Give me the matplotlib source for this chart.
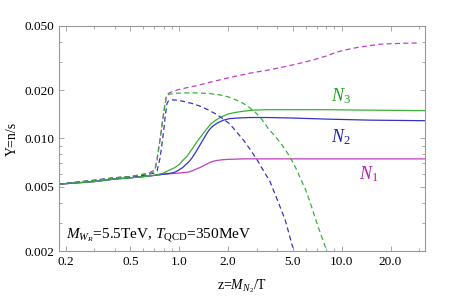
import matplotlib
matplotlib.use("Agg")
import matplotlib.pyplot as plt
from matplotlib.ticker import FixedLocator, FixedFormatter, NullFormatter

plt.rcParams['font.family'] = ['Liberation Serif', 'DejaVu Serif']
plt.rcParams['mathtext.fontset'] = 'custom'
plt.rcParams['mathtext.rm'] = 'Liberation Serif'
plt.rcParams['mathtext.it'] = 'Liberation Serif:italic'
plt.rcParams['lines.scale_dashes'] = False

# solid curves (N1, N2, N3)
z_n1 = [0.18, 0.3, 0.4, 0.5, 0.6, 0.7, 0.8, 0.9, 1.0, 1.08, 1.15, 1.2, 1.27, 1.34, 1.42,
        1.5, 1.6, 1.7, 1.85, 2.0, 2.5, 5.0, 10.0, 20.0, 33.0]
y_n1 = [0.0052, 0.0054, 0.0056, 0.0057, 0.0058, 0.0059, 0.0060, 0.00605, 0.0061, 0.00615,
        0.0062, 0.0063, 0.00645, 0.0066, 0.0068, 0.0070, 0.0072, 0.0073, 0.00738, 0.00742,
        0.00747, 0.00747, 0.00747, 0.00747, 0.00747]

z_n2 = [0.18, 0.3, 0.4, 0.5, 0.6, 0.7, 0.8, 0.9, 0.95, 1.0, 1.05, 1.1, 1.15, 1.2, 1.27,
        1.34, 1.4, 1.45, 1.5, 1.55, 1.62, 1.7, 1.78, 1.87, 2.05, 2.3, 2.7, 3.5, 5.0, 8.0,
        15.0, 33.0]
y_n2 = [0.0052, 0.0054, 0.0056, 0.0057, 0.0058, 0.0059, 0.0060, 0.0061, 0.0062, 0.0064,
        0.0066, 0.0069, 0.0072, 0.0076, 0.0083, 0.0091, 0.0098, 0.0104, 0.0110, 0.0115,
        0.0120, 0.0124, 0.0127, 0.0130, 0.0133, 0.0134, 0.0135, 0.0135, 0.0134, 0.0132,
        0.0130, 0.0129]

z_n3 = [0.18, 0.3, 0.4, 0.5, 0.6, 0.7, 0.8, 0.88, 0.94, 1.0, 1.05, 1.11, 1.16, 1.22, 1.28,
        1.34, 1.4, 1.47, 1.55, 1.64, 1.74, 1.87, 2.0, 2.2, 2.4, 2.84, 3.5, 5.0, 8.0, 15.0,
        33.0]
y_n3 = [0.0052, 0.0054, 0.0056, 0.0057, 0.0058, 0.0059, 0.0061, 0.0064, 0.0066, 0.0069,
        0.0073, 0.0077, 0.0082, 0.0088, 0.0095, 0.0101, 0.0107, 0.0114, 0.0122, 0.0128,
        0.0133, 0.0138, 0.0142, 0.0145, 0.0147, 0.0150, 0.0151, 0.0151, 0.0151, 0.0150,
        0.0149]

# dashed curves
zd_n1 = [0.18, 0.3, 0.4, 0.5, 0.6, 0.65, 0.69, 0.71, 0.73, 0.75, 0.77, 0.79, 0.81, 0.83,
         0.85, 0.9, 1.0, 1.25, 1.5, 2.15, 2.8, 3.6, 4.5, 5.5, 6.7, 8.0, 9.3, 10.7, 12.5,
         15.0, 17.2, 20.0, 25.0, 29.5]
yd_n1 = [0.0052, 0.0055, 0.0057, 0.0058, 0.0060, 0.0061, 0.0063, 0.0066, 0.0075, 0.0090,
         0.0108, 0.0130, 0.0155, 0.0180, 0.0190, 0.0195, 0.0202, 0.0212, 0.0222, 0.0242,
         0.0256, 0.0267, 0.0280, 0.0293, 0.0308, 0.0325, 0.0344, 0.0356, 0.0368, 0.0378,
         0.0385, 0.0388, 0.0391, 0.0392]

zd_n2 = [0.18, 0.3, 0.4, 0.5, 0.6, 0.65, 0.70, 0.73, 0.76, 0.78, 0.80, 0.82, 0.84, 0.86,
         0.9, 0.97, 1.06, 1.2, 1.34, 1.5, 1.7, 1.87, 2.05, 2.25, 2.5, 2.72, 3.06, 3.3,
         3.62, 4.0, 4.5, 5.0]
yd_n2 = [0.0052, 0.0055, 0.0057, 0.0058, 0.0059, 0.0060, 0.0061, 0.0063, 0.0075, 0.0090,
         0.0110, 0.0138, 0.0165, 0.0172, 0.0174, 0.0173, 0.0170, 0.0165, 0.0159, 0.0151,
         0.0141, 0.0132, 0.0123, 0.0110, 0.0097, 0.0086, 0.0072, 0.0063, 0.0054, 0.0042,
         0.0031, 0.0021]

zd_n3 = [0.18, 0.3, 0.4, 0.5, 0.6, 0.65, 0.69, 0.71, 0.73, 0.75, 0.77, 0.79, 0.81, 0.83,
         0.86, 0.95, 1.1, 1.3, 1.55, 1.75, 1.9, 2.05, 2.2, 2.4, 2.56, 2.72, 2.93, 3.2, 3.54,
         4.0, 4.4, 4.8, 5.2, 5.6, 6.0, 6.4, 7.1, 8.1]
yd_n3 = [0.0052, 0.0055, 0.0057, 0.0058, 0.0060, 0.0060, 0.0062, 0.0064, 0.0073, 0.0088,
         0.0106, 0.0128, 0.0153, 0.0178, 0.0188, 0.0191, 0.0192, 0.0192, 0.0190, 0.0187,
         0.0184, 0.0180, 0.0175, 0.0168, 0.0162, 0.0155, 0.0146, 0.0133, 0.0115, 0.0100,
         0.0088, 0.0077, 0.0066, 0.0056, 0.0048, 0.0040, 0.0029, 0.0020]

x_ticks = [0.2, 0.5, 1.0, 2.0, 5.0, 10.0, 20.0]
x_labels = ["0.2", "0.5", "1.0", "2.0", "5.0", "10.0", "20.0"]
y_ticks = [0.002, 0.005, 0.010, 0.020, 0.050]
y_labels = ["0.002", "0.005", "0.010", "0.020", "0.050"]

magenta = '#c23ec2'
blue = '#3434c4'
green = '#38b038'

fig = plt.figure(figsize=(4.52, 2.98), dpi=100)
ax = fig.add_axes([0.1316, 0.1577, 0.8087, 0.7551])
ax.set_xscale('log')
ax.set_yscale('log')

lw = 0.9
ax.plot(z_n1, y_n1, color=magenta, lw=lw)
ax.plot(z_n2, y_n2, color=blue, lw=lw)
ax.plot(z_n3, y_n3, color=green, lw=lw)
dash = (0, (3.6, 2.4))
ax.plot(zd_n1, yd_n1, color=magenta, lw=lw, linestyle=dash)
ax.plot(zd_n2, yd_n2, color=blue, lw=lw, linestyle=dash)
ax.plot(zd_n3, yd_n3, color=green, lw=lw, linestyle=dash)

ax.set_xlim(0.183, 32.6)
ax.set_ylim(0.002, 0.05)

minor_x = [m * 10.0 ** e for e in (-1, 0, 1) for m in range(1, 10)]
minor_x = [v for v in minor_x if round(v, 3) not in (0.2, 0.5, 1.0, 2.0, 5.0, 10.0, 20.0)]
minor_y = [m * 10.0 ** e for e in (-3, -2) for m in range(1, 10)]
minor_y = [v for v in minor_y if round(v, 4) not in (0.002, 0.005, 0.01, 0.02, 0.05)]

ax.xaxis.set_major_locator(FixedLocator(x_ticks))
ax.xaxis.set_major_formatter(FixedFormatter(x_labels))
ax.xaxis.set_minor_locator(FixedLocator(minor_x))
ax.xaxis.set_minor_formatter(NullFormatter())
ax.yaxis.set_major_locator(FixedLocator(y_ticks))
ax.yaxis.set_major_formatter(FixedFormatter(y_labels))
ax.yaxis.set_minor_locator(FixedLocator(minor_y))
ax.yaxis.set_minor_formatter(NullFormatter())

frame = '#999999'
for s in ax.spines.values():
    s.set_color(frame)
    s.set_linewidth(0.8)
ax.tick_params(which='both', direction='in', top=True, right=True, color=frame,
               labelsize=9.5, pad=3.5, width=0.6)
ax.tick_params(which='major', length=3.5)
ax.tick_params(which='minor', length=2)

ax.set_xlabel(r"z=$M_{N_2}$/T", fontsize=10, labelpad=7)
ax.set_ylabel("Y=n/s", fontsize=10, labelpad=4)

ax.text(9.9, 0.0183, r"$N_3$", color='#20a020', fontsize=13, ha='center', va='center')
ax.text(9.9, 0.0102, r"$N_2$", color='#2020b0', fontsize=13, ha='center', va='center')
ax.text(14.7, 0.00604, r"$N_1$", color='#b020b0', fontsize=13, ha='center', va='center')
ax.text(0.2, 0.00254,
        r"$M_{W_R}$=5.5TeV, $T_{\rm QCD}$=350MeV", fontsize=11, ha='left', va='center')

fig.savefig("out.png", dpi=100)
